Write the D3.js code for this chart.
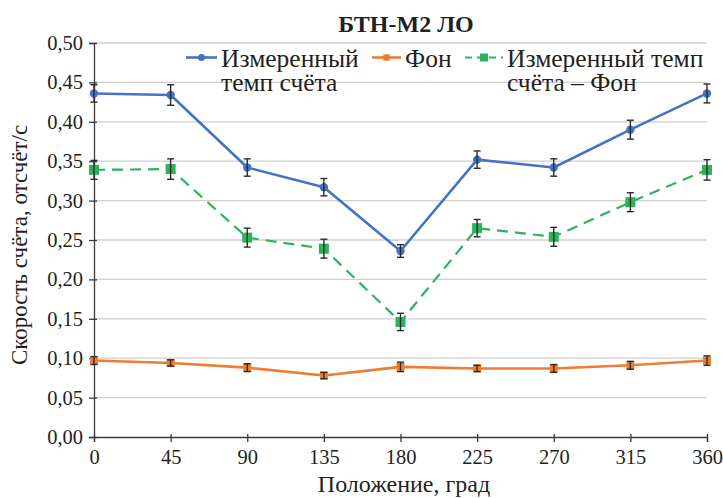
<!DOCTYPE html>
<html>
<head>
<meta charset="utf-8">
<script src="https://cdn.jsdelivr.net/npm/d3@7/dist/d3.min.js"></script>
<style>
  html, body { margin: 0; padding: 0; background: #fff; }
  svg { display: block; }
</style>
</head>
<body>
<svg id="chart" width="723" height="498"></svg>
<script>
// Count rate vs detector position
const angles = [0, 45, 90, 135, 180, 225, 270, 315, 360];
const measured = [0.436, 0.434, 0.342, 0.317, 0.236, 0.352, 0.342, 0.390, 0.436];
const measuredErr = [0.011, 0.013, 0.011, 0.011, 0.008, 0.011, 0.011, 0.012, 0.012];
const background = [0.097, 0.094, 0.088, 0.078, 0.089, 0.087, 0.087, 0.091, 0.097];
const backgroundErr = [0.005, 0.004, 0.005, 0.004, 0.006, 0.004, 0.005, 0.005, 0.006];
const net = [0.339, 0.340, 0.253, 0.239, 0.146, 0.265, 0.254, 0.298, 0.339];
const netErr = [0.012, 0.013, 0.012, 0.012, 0.011, 0.011, 0.012, 0.012, 0.013];
const yTicks = [0, 0.05, 0.10, 0.15, 0.20, 0.25, 0.30, 0.35, 0.40, 0.45, 0.50];

const FONT = '"Liberation Serif", "Times New Roman", serif';
const INK = "#231f20";

const svg = d3.select("#chart");
const plotLeft = 94, plotRight = 707, plotTop = 43, plotBottom = 437;

const x = d3.scaleLinear().domain([0, 360]).range([plotLeft, plotRight]);
const y = d3.scaleLinear().domain([0, 0.5]).range([plotBottom, plotTop]);
const fmt = v => d3.format(".2f")(v).replace(".", ",");

// gridlines
svg.append("g").selectAll("line").data(yTicks.filter(v => v > 0)).join("line")
  .attr("x1", plotLeft).attr("x2", plotRight)
  .attr("y1", d => y(d)).attr("y2", d => y(d))
  .attr("stroke", "#cfcfcf").attr("stroke-width", 1.3);

// axes
const axisColor = "#3a3a3a";
const yAxis = svg.append("g").attr("transform", `translate(${plotLeft},0)`)
  .call(d3.axisLeft(y).tickValues(yTicks).tickFormat(fmt).tickSize(5).tickPadding(6));
const xAxis = svg.append("g").attr("transform", `translate(0,${plotBottom})`)
  .call(d3.axisBottom(x).tickValues(angles).tickFormat(d3.format("d")).tickSize(5).tickPadding(7));
[yAxis, xAxis].forEach(g => {
  g.attr("font-family", null).attr("font-size", null);
  g.select(".domain").attr("stroke", axisColor).attr("stroke-width", 1.3);
  g.selectAll(".tick line").attr("stroke", axisColor).attr("stroke-width", 1.3);
  g.selectAll(".tick text").style("font-family", FONT)
    .style("font-size", "20.5px").attr("fill", INK);
});
// cross ticks: short inner part
yAxis.selectAll(".tick").append("line").attr("x1", 0).attr("x2", 3)
  .attr("stroke", axisColor).attr("stroke-width", 1.3);
xAxis.selectAll(".tick").append("line").attr("y1", 0).attr("y2", -3)
  .attr("stroke", axisColor).attr("stroke-width", 1.3);

const series = [
  { name: "measured", values: measured, err: measuredErr, color: "#4472c4", dash: null, marker: "circle", size: 4.2, width: 2.6 },
  { name: "background", values: background, err: backgroundErr, color: "#ed7d31", dash: null, marker: "square", size: 8, width: 2.6 },
  { name: "net", values: net, err: netErr, color: "#2db35c", dash: "11,7", marker: "square", size: 10, width: 2.2 }
];

const line = d3.line().x((d, i) => x(angles[i])).y(d => y(d));

series.forEach(s => {
  const g = svg.append("g");
  g.append("path").datum(s.values)
    .attr("d", line).attr("fill", "none")
    .attr("stroke", s.color).attr("stroke-width", s.width)
    .attr("stroke-dasharray", s.dash)
    .attr("stroke-linejoin", "round");
  // markers
  if (s.marker === "circle") {
    g.selectAll("circle").data(s.values).join("circle")
      .attr("cx", (d, i) => x(angles[i])).attr("cy", d => y(d))
      .attr("r", s.size).attr("fill", s.color);
  } else {
    g.selectAll("rect").data(s.values).join("rect")
      .attr("x", (d, i) => x(angles[i]) - s.size / 2).attr("y", d => y(d) - s.size / 2)
      .attr("width", s.size).attr("height", s.size).attr("fill", s.color);
  }
  // error bars
  const eb = g.append("g").attr("stroke", "#2b2b2b").attr("stroke-width", 1.4);
  s.values.forEach((v, i) => {
    const cx = x(angles[i]);
    const y1 = y(v - s.err[i]), y2 = y(v + s.err[i]);
    eb.append("line").attr("x1", cx).attr("x2", cx).attr("y1", y1).attr("y2", y2);
    eb.append("line").attr("x1", cx - 3.5).attr("x2", cx + 3.5).attr("y1", y1).attr("y2", y1);
    eb.append("line").attr("x1", cx - 3.5).attr("x2", cx + 3.5).attr("y1", y2).attr("y2", y2);
  });
});

// title
svg.append("text").attr("x", 406).attr("y", 32).attr("text-anchor", "middle")
  .style("font-family", FONT).attr("fill", INK)
  .style("font-size", "24px").style("font-weight", "bold").text("БТН-М2 ЛО");

// axis titles
svg.append("text").attr("x", 404).attr("y", 492).attr("text-anchor", "middle")
  .style("font-family", FONT).attr("fill", INK)
  .style("font-size", "24px").text("Положение, град");
svg.append("text").attr("transform", "translate(27,245) rotate(-90)").attr("text-anchor", "middle")
  .style("font-family", FONT).attr("fill", INK)
  .style("font-size", "23px").text("Скорость счёта, отсчёт/с");

// legend (wrapped labels are one text element with stacked tspans)
const legend = [
  { s: series[0], x0: 186, x1: 217, lines: ["Измеренный", "темп счёта"] },
  { s: series[1], x0: 372, x1: 401, lines: ["Фон"] },
  { s: series[2], x0: 465, x1: 503, lines: ["Измеренный темп", "счёта – Фон"] }
];
legend.forEach(l => {
  const g = svg.append("g");
  const ly = 57.5;
  g.append("line").attr("x1", l.x0).attr("x2", l.x1).attr("y1", ly).attr("y2", ly)
    .attr("stroke", l.s.color).attr("stroke-width", l.s.width)
    .attr("stroke-dasharray", l.s.dash ? "7,5" : null);
  const cx = (l.x0 + l.x1) / 2;
  if (l.s.marker === "circle") {
    g.append("circle").attr("cx", cx).attr("cy", ly).attr("r", 3.5).attr("fill", l.s.color);
  } else {
    const sz = l.s.size * 0.8;
    g.append("rect").attr("x", cx - sz / 2).attr("y", ly - sz / 2)
      .attr("width", sz).attr("height", sz).attr("fill", l.s.color);
  }
  const txt = g.append("text").attr("x", l.x1 + 4).attr("y", 67)
    .style("font-family", FONT).attr("fill", INK).style("font-size", "25.5px");
  l.lines.forEach((t, k) => {
    txt.append("tspan").attr("x", l.x1 + 4).attr("dy", k === 0 ? 0 : 24).text(t);
  });
});
</script>
</body>
</html>
